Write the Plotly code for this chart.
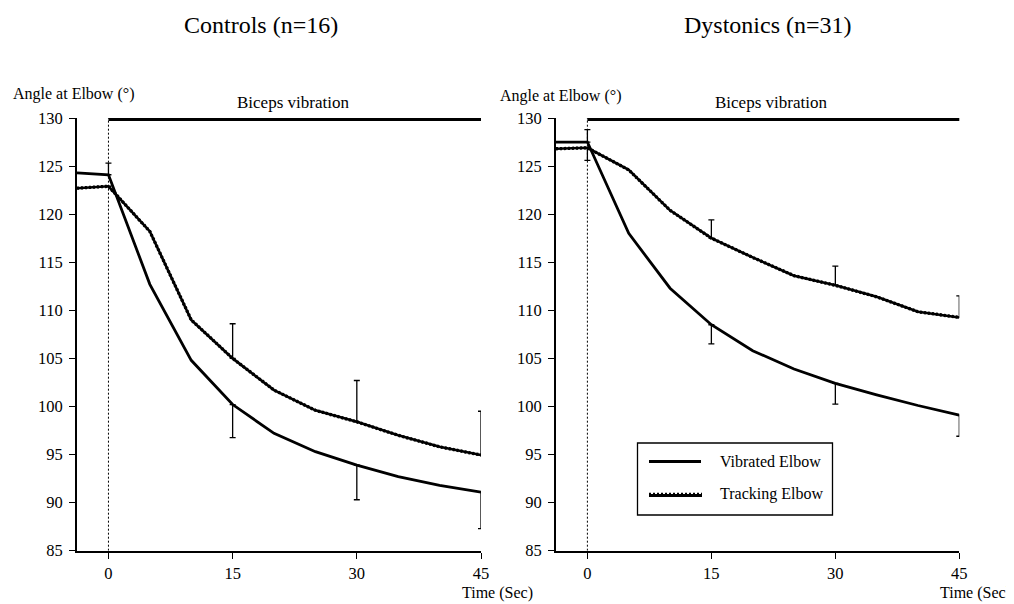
import plotly.graph_objects as go

# ---------------- data ----------------
time_s = [-3.8, 0, 5, 10, 15, 20, 25, 30, 35, 40, 45]

ctrl_vibrated = [124.3, 124.1, 112.7, 104.8, 100.2, 97.2, 95.3, 93.9, 92.7, 91.8, 91.1]
ctrl_tracking = [122.7, 122.9, 118.2, 109.0, 105.0, 101.7, 99.6, 98.4, 97.0, 95.8, 94.95]

dyst_vibrated = [127.5, 127.5, 118.0, 112.3, 108.5, 105.8, 103.9, 102.4, 101.2, 100.1, 99.1]
dyst_tracking = [126.8, 126.9, 124.6, 120.4, 117.5, 115.5, 113.6, 112.6, 111.4, 109.85, 109.26]

# error bars (index into time_s, upward / downward SD)
err_idx = [1, 4, 7, 10]
ctrl_vib_err_up = [1.2, 0, 0, 0]
ctrl_vib_err_dn = [0, 3.45, 3.6, 3.8]
ctrl_trk_err_up = [0, 3.6, 4.3, 4.55]
ctrl_trk_err_dn = [0, 0, 0, 0]
dyst_vib_err_up = [1.3, 0, 0, 0]
dyst_vib_err_dn = [0, 2.0, 2.15, 2.2]
dyst_trk_err_up = [0, 1.9, 2.0, 2.25]
dyst_trk_err_dn = [1.3, 0, 0, 0]

vib_start = 0
vib_end = [45, 45.6]
vib_level = 130

x_ticks = [0, 15, 30, 45]
y_range = [85, 130]
x_range = [-3.8, 45]

panel_titles = ["Controls (n=16)", "Dystonics (n=31)"]
legend_labels = ["Vibrated Elbow", "Tracking Elbow"]

FONT = "Liberation Serif"
W, H = 1014, 604
OFF = 8  # page body margin: figure is drawn 8px in from the top-left

fig = go.Figure()


def px_x(p):
    return (p - OFF) / W


def px_y(p):
    return 1 - (p - OFF) / H


panels = [
    ("x", "y", ctrl_vibrated, ctrl_tracking,
     ctrl_vib_err_up, ctrl_vib_err_dn, ctrl_trk_err_up, ctrl_trk_err_dn, vib_end[0]),
    ("x2", "y2", dyst_vibrated, dyst_tracking,
     dyst_vib_err_up, dyst_vib_err_dn, dyst_trk_err_up, dyst_trk_err_dn, vib_end[1]),
]

for xa, ya, vib, trk, vup, vdn, tup, tdn, vend in panels:
    # dotted line at onset
    fig.add_trace(go.Scatter(x=[vib_start, vib_start], y=y_range, mode="lines",
                             line=dict(color="black", width=1, dash="2px,2px"),
                             xaxis=xa, yaxis=ya, showlegend=False, hoverinfo="skip"))
    # vibration bar (half clipped at the top edge -> sits just above 130)
    fig.add_trace(go.Scatter(x=[vib_start, vend], y=[vib_level, vib_level], mode="lines",
                             line=dict(color="black", width=6),
                             xaxis=xa, yaxis=ya, showlegend=False, hoverinfo="skip"))
    # error bars
    for series, up, dn in ((vib, vup, vdn), (trk, tup, tdn)):
        fig.add_trace(go.Scatter(
            x=[time_s[i] for i in err_idx], y=[series[i] for i in err_idx],
            mode="markers", marker=dict(size=1, color="rgba(0,0,0,0)"),
            error_y=dict(type="data", symmetric=False, array=up, arrayminus=dn,
                         color="black", thickness=1.3, width=3),
            xaxis=xa, yaxis=ya, showlegend=False, hoverinfo="skip"))
    # tracking: dotted underlay + solid
    fig.add_trace(go.Scatter(x=time_s, y=trk, mode="lines",
                             line=dict(color="black", width=3.3, dash="2px,2px"),
                             xaxis=xa, yaxis=ya, showlegend=False, name=legend_labels[1]))
    fig.add_trace(go.Scatter(x=time_s, y=trk, mode="lines",
                             line=dict(color="black", width=2.6),
                             xaxis=xa, yaxis=ya, showlegend=False, name=legend_labels[1]))
    # vibrated
    fig.add_trace(go.Scatter(x=time_s, y=vib, mode="lines",
                             line=dict(color="black", width=2.8),
                             xaxis=xa, yaxis=ya, showlegend=False, name=legend_labels[0]))

axis_common = dict(showline=True, linecolor="black", linewidth=2, ticks="outside",
                   ticklen=6, tickwidth=1.3, tickcolor="black", showgrid=False,
                   zeroline=False, automargin=False,
                   tickfont=dict(family=FONT, size=16.5, color="black"),
                   fixedrange=True)

fig.update_layout(
    template="none",
    width=W, height=H,
    margin=dict(l=0, r=0, t=0, b=0, pad=0, autoexpand=False),
    paper_bgcolor="white", plot_bgcolor="white",
    showlegend=False,
    xaxis=dict(domain=[px_x(77), px_x(481)], range=x_range, tickvals=x_ticks,
               anchor="y", **axis_common),
    yaxis=dict(domain=[px_y(550.7), px_y(118)], range=y_range, dtick=5,
               anchor="x", ticklabelstandoff=3, **axis_common),
    xaxis2=dict(domain=[px_x(556), px_x(959.3)], range=x_range, tickvals=x_ticks,
                anchor="y2", **axis_common),
    yaxis2=dict(domain=[px_y(550.7), px_y(118)], range=y_range, dtick=5,
                anchor="x2", ticklabelstandoff=3, **axis_common),
)

annotations = []
def txt(text, x, y, size, xanchor="center"):
    annotations.append(dict(text=text, x=px_x(x), y=px_y(y), xref="paper", yref="paper",
                            showarrow=False, xanchor=xanchor, yanchor="middle",
                            font=dict(family=FONT, size=size, color="black")))

txt(panel_titles[0], 261, 25, 24)
txt(panel_titles[1], 768, 25, 24)
txt("Angle at Elbow (°)", 11, 94, 16, "left")
txt("Angle at Elbow (°)", 498, 95.5, 16, "left")
txt("Biceps vibration", 293, 103, 17)
txt("Biceps vibration", 771, 103, 17)
txt("Time (Sec)", 497, 593, 16)
txt("Time (Sec)", 975, 593, 16)
# legend text
txt(legend_labels[0], 718, 461, 16, "left")
txt(legend_labels[1], 718, 494, 16, "left")

shapes = [
    dict(type="rect", xref="paper", yref="paper", x0=px_x(637.5), x1=px_x(832.5),
         y0=px_y(515), y1=px_y(443), line=dict(color="black", width=1.3),
         fillcolor="white", layer="above"),
    dict(type="line", xref="paper", yref="paper", x0=px_x(649), x1=px_x(701),
         y0=px_y(461.5), y1=px_y(461.5), line=dict(color="black", width=3)),
    dict(type="line", xref="paper", yref="paper", x0=px_x(649), x1=px_x(702),
         y0=px_y(495.5), y1=px_y(495.5), line=dict(color="black", width=3)),
    dict(type="line", xref="paper", yref="paper", x0=px_x(649), x1=px_x(702),
         y0=px_y(493.8), y1=px_y(493.8), line=dict(color="black", width=2, dash="2px,2px")),
]
fig.update_layout(annotations=annotations, shapes=shapes)

fig.write_html("out.html")
